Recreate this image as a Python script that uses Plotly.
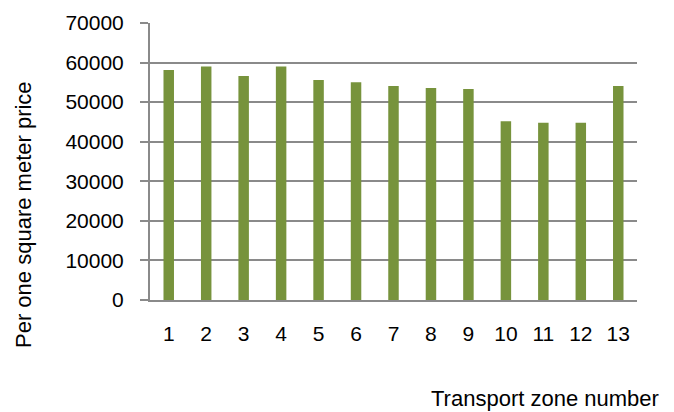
import plotly.graph_objects as go

zones = [str(i) for i in range(1, 14)]
prices = [58100, 59000, 56600, 59000, 55600, 55000, 54100, 53600, 53300, 45200, 44800, 44800, 54100]
y_ticks = [0, 10000, 20000, 30000, 40000, 50000, 60000, 70000]

GRID = "#8a8a8a"
FONT = "Liberation Sans, Arial, sans-serif"

fig = go.Figure(go.Bar(x=zones, y=prices, marker=dict(color="#77933C", line=dict(width=0)),
                       showlegend=False))

fig.update_layout(
    width=674, height=412,
    margin=dict(l=150, r=37, t=23, b=112),
    paper_bgcolor="white", plot_bgcolor="white",
    bargap=0.72,
    font=dict(family=FONT, size=21, color="black"),
    xaxis=dict(type="category", range=[-0.5, 12.5], showgrid=False, ticks="",
               showline=True, linecolor=GRID, linewidth=2, ticklabelstandoff=14,
               tickfont=dict(size=21)),
    yaxis=dict(range=[0, 70000], tickvals=y_ticks, ticktext=[str(v) for v in y_ticks],
               showgrid=True, gridcolor=GRID, gridwidth=2,
               showline=True, linecolor=GRID, linewidth=2,
               ticks="outside", ticklen=8, tickcolor=GRID, tickwidth=2,
               ticklabelstandoff=12, zeroline=False, tickfont=dict(size=21)),
    annotations=[
        dict(text="Per one square meter price", xref="paper", yref="paper",
             x=-0.2587, y=0.307, xanchor="center", yanchor="middle",
             textangle=-90, showarrow=False, font=dict(size=22)),
        dict(text="Transport zone number", xref="paper", yref="paper",
             x=0.811, y=-0.354, xanchor="center", yanchor="middle",
             showarrow=False, font=dict(size=22)),
    ],
)

fig.write_html("out.html")
